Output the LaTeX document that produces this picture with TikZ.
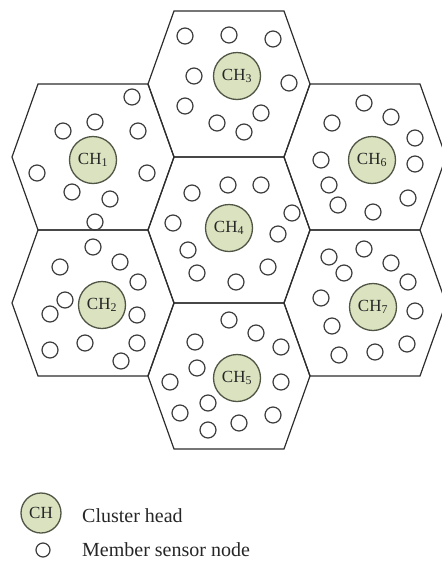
\documentclass[tikz,border=0pt]{standalone}
\usepackage{fontspec}
\setmainfont{Liberation Serif}
\definecolor{headfill}{RGB}{218,226,191}
\definecolor{headline}{RGB}{80,86,70}
\definecolor{cellline}{RGB}{45,45,45}
\definecolor{memline}{RGB}{60,60,60}
\begin{document}
\begin{tikzpicture}[x=1pt,y=-1pt,
  hexline/.style={draw=cellline,line width=1.2pt,line join=miter},
  member/.style={circle,draw=memline,line width=1.2pt,minimum size=16pt,inner sep=0pt},
  head/.style={circle,draw=headline,line width=1.3pt,fill=headfill,minimum size=47pt,inner sep=0pt,
    font=\fontsize{17}{17}\selectfont,text=black!85},
  legendtext/.style={anchor=west,inner sep=0pt,font=\fontsize{20}{20}\selectfont,text=black!85}]
\useasboundingbox (0,0) rectangle (442,568);
\begin{scope}
\clip (0,0) rectangle (442,568);
\foreach \cx/\cy in {93/157, 93/303, 229/84, 229/230, 229/376, 365/157, 365/303}
  \draw[hexline] (\cx-81,\cy) -- (\cx-55,\cy-73) -- (\cx+55,\cy-73) -- (\cx+81,\cy)
     -- (\cx+55,\cy+73) -- (\cx-55,\cy+73) -- cycle;
\end{scope}
% cluster heads
\node[head] (ch1) at (93,160) {CH\textsubscript{1}};
\node[head] (ch2) at (102,305) {CH\textsubscript{2}};
\node[head] (ch3) at (237,76) {CH\textsubscript{3}};
\node[head] (ch4) at (229,228) {CH\textsubscript{4}};
\node[head] (ch5) at (237,378) {CH\textsubscript{5}};
\node[head] (ch6) at (372,160) {CH\textsubscript{6}};
\node[head] (ch7) at (373,307) {CH\textsubscript{7}};
% member nodes
\foreach \px/\py [count=\i] in {
  132/97, 95/122, 63/131, 138/131, 37/173, 147/173, 72/192, 110/199, 95/222,
  185/36, 229/35, 273/39, 194/76, 289/83, 185/106, 217/123, 261/113, 244/132,
  364/103, 391/117, 332/123, 415/138, 415/164, 321/160, 329/185, 338/205, 408/198, 373/212,
  192/193, 228/185, 261/185, 173/223, 292/213, 278/234, 188/250, 268/267, 197/273, 236/282,
  93/247, 60/267, 120/262, 138/282, 65/300, 50/314, 137/315, 50/350, 85/343, 137/343, 121/361,
  229/320, 256/333, 281/347, 195/342, 197/368, 170/382, 281/382, 208/403, 180/413, 273/415, 239/423, 208/430,
  364/249, 329/257, 391/263, 344/273, 408/282, 321/298, 415/311, 332/326, 407/344, 375/352, 339/355}
  \node[member] (m\i) at (\px,\py) {};
% legend
\node[head,minimum size=40pt] (lgh) at (41,513) {CH};
\node[legendtext] (lght) at (82,516) {Cluster head};
\node[member,minimum size=14pt] (lgm) at (43,550) {};
\node[legendtext] (lgmt) at (82,550) {Member sensor node};
\end{tikzpicture}
\end{document}
